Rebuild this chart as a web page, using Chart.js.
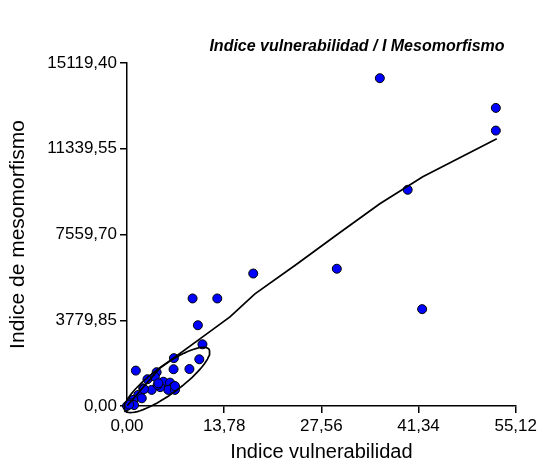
<!DOCTYPE html>
<html>
<head>
<meta charset="utf-8">
<script src="https://cdn.jsdelivr.net/npm/chart.js@4.4.0/dist/chart.umd.min.js"></script>
<style>
    html, body { margin: 0; padding: 0; background: #fff; }
    canvas { display: block; }
</style>
</head>
<body>
<canvas id="chart" width="540" height="464"></canvas>
<script>
/* --- Données --- */
const vulnerabilidad = [
    35.85, 52.30, 52.30, 39.80, 17.90, 29.75, 41.85, 9.30, 12.80, 10.05,
    10.70, 10.25, 8.85, 6.60, 6.65, 1.25, 4.20, 2.90, 3.95, 5.15,
    6.10, 6.55, 5.85, 4.70, 3.50, 2.30, 1.60, 2.10, 0.90, 0.45,
    0.00, 1.00, 6.80, 4.35, 4.45, 2.40, 6.80, 0.30
];
const mesomorfismo = [
    14450, 13140, 12140, 9530, 5840, 6050, 4270, 4740, 4740, 3560,
    2720, 2060, 1630, 1620, 2110, 1560, 1490, 1180, 1290, 1070,
    1030, 850, 710, 830, 710, 780, 490, 340, 270, 120,
    0, 40, 710, 930, 1000, 740, 880, 60
];

// courbe lissée
const lowessX = [0, 4.68, 10.34, 14.60, 18.14, 23.95, 29.76, 35.85, 41.94, 52.43];
const lowessY = [0, 1677, 2957, 3928, 4944, 6224, 7548, 8916, 10108, 11785];

// ellipse autour du groupe de points (centre, demi-axes)
const ellipseCentre = [5.67, 1148];
const ellipseMajor = [5.95, 1351];
const ellipseMinor = [1.17, -499];

const xTicks = [0, 13.78, 27.56, 41.34, 55.12];
const yTicks = [0, 3779.85, 7559.70, 11339.55, 15119.40];

const FONT = "'Liberation Sans', Arial, sans-serif";

/* --- Helpers --- */
const fmt = (v) => Number(v).toFixed(2).replace('.', ',');

function ellipsePoints() {
    const pts = [];
    for (let deg = 0; deg <= 360; deg += 5) {
        const t = deg * Math.PI / 180;
        pts.push({
            x: ellipseCentre[0] + Math.cos(t) * ellipseMajor[0] + Math.sin(t) * ellipseMinor[0],
            y: ellipseCentre[1] + Math.cos(t) * ellipseMajor[1] + Math.sin(t) * ellipseMinor[1]
        });
    }
    return pts;
}

function axisOptions(ticks, max, title, titleSize, titlePad) {
    return {
        type: 'linear',
        min: 0,
        max,
        afterBuildTicks: (scale) => { scale.ticks = ticks.map(v => ({ value: v })); },
        grid: { drawOnChartArea: false, drawTicks: true, tickLength: 7, color: '#000', lineWidth: 1.5 },
        border: { display: true, color: '#000', width: 1.5 },
        ticks: { color: '#000', font: { family: FONT, size: 17 }, padding: 3, callback: fmt },
        title: { display: true, text: title, color: '#000', font: { family: FONT, size: titleSize }, padding: titlePad }
    };
}

// titre du graphique, gras italique
const chartTitle = {
    id: 'chartTitle',
    afterDraw(chart) {
        const { ctx } = chart;
        ctx.save();
        ctx.font = `italic bold 16px ${FONT}`;
        ctx.fillStyle = '#000';
        ctx.textAlign = 'center';
        ctx.textBaseline = 'middle';
        ctx.fillText('Indice vulnerabilidad / I Mesomorfismo', 357, 47);
        ctx.restore();
    }
};

/* --- Graphique --- */
const xScale = axisOptions(xTicks, 55.12, 'Indice vulnerabilidad', 20, { top: 0, bottom: 0 });
xScale.afterFit = (scale) => { scale.height = 58; };
const yScale = axisOptions(yTicks, 15119.40, 'Indice de mesomorfismo', 21, { top: 6, bottom: 0 });
yScale.afterFit = (scale) => { scale.width = 127; };

new Chart(document.getElementById('chart').getContext('2d'), {
    type: 'scatter',
    data: {
        datasets: [
            {
                label: 'lowess',
                data: lowessX.map((x, i) => ({ x, y: lowessY[i] })),
                showLine: true,
                borderColor: '#000',
                borderWidth: 1.7,
                pointRadius: 0,
                tension: 0,
                order: 0
            },
            {
                label: 'ellipse',
                data: ellipsePoints(),
                showLine: true,
                borderColor: '#000',
                borderWidth: 1.7,
                pointRadius: 0,
                tension: 0,
                clip: false,
                order: 0
            },
            {
                label: 'points',
                data: vulnerabilidad.map((x, i) => ({ x, y: mesomorfismo[i] })),
                backgroundColor: '#0000ff',
                borderColor: '#000',
                borderWidth: 1,
                pointRadius: 4.5,
                clip: false,
                order: 1
            }
        ]
    },
    options: {
        responsive: false,
        animation: false,
        layout: { padding: { left: 0, right: 24, top: 63, bottom: 0 } },
        plugins: { legend: { display: false }, tooltip: { enabled: false } },
        scales: { x: xScale, y: yScale }
    },
    plugins: [chartTitle]
});
</script>
</body>
</html>
